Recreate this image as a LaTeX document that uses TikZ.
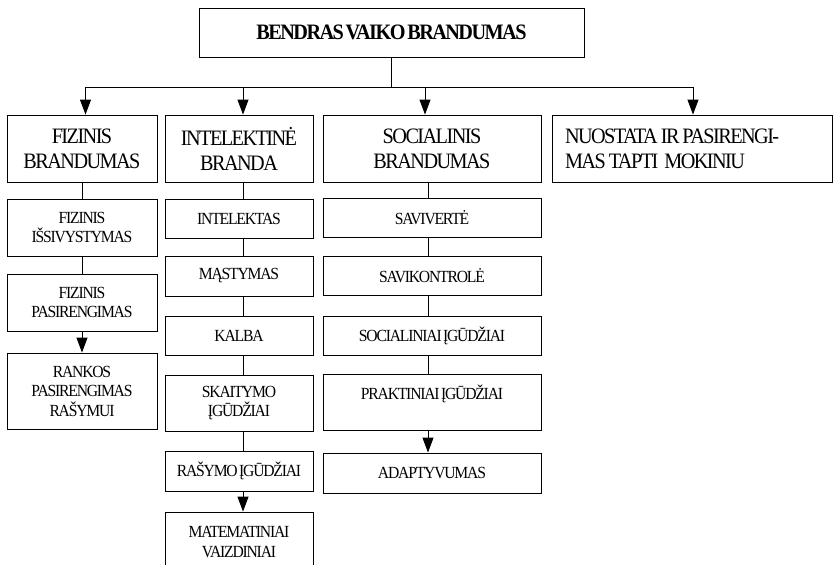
\documentclass[tikz,border=0pt]{standalone}
\usepackage{fontspec}
\setmainfont[FakeStretch=0.92, LetterSpace=-7, WordSpace=0.5]{Liberation Serif}
\usetikzlibrary{arrows.meta}
\usetikzlibrary{calc}

\newcommand\tightspace{\spaceskip=3pt\relax}

\begin{document}
\begin{tikzpicture}[
    x=1pt, y=-1pt,
    line width=0.9pt,
    box/.style={draw, inner sep=0pt, align=center},
    head/.style={box, minimum height=67pt, font=\fontsize{22}{25}\selectfont},
    item/.style={box, font=\fontsize{17}{19.5}\selectfont},
    arr/.style={-{Triangle[length=15pt,width=11pt]}}]

    \useasboundingbox (0,0) rectangle (833,565);

    % top box
    \node[box, minimum width=385pt, minimum height=49pt,
        font=\bfseries\fontsize{22}{25}\selectfont] (top) at (391.5,32.5) {BENDRAS VAIKO BRANDUMAS};

    % first row
    \node[head, minimum width=150pt] (fiz) at (82,148.5) {FIZINIS\\BRANDUMAS};
    \node[head, minimum width=148pt] (intel) at (239,148.5) {INTELEKTINĖ\\BRANDA};
    \node[head, minimum width=218pt] (soc) at (432,148.5) {SOCIALINIS\\BRANDUMAS};
    \node[head, minimum width=280pt, text width=254pt, align=left] (nuo) at (692,148.5)
        {\tightspace NUOSTATA IR PASIRENGI-\\MAS TAPTI~~MOKINIU};

    % fizinis column
    \node[item, minimum width=150pt, minimum height=57pt] (fizA) at (82,227.5) {FIZINIS\\IŠSIVYSTYMAS};
    \node[item, minimum width=150pt, minimum height=57pt] (fizB) at (82,302.5) {FIZINIS\\PASIRENGIMAS};
    \node[item, minimum width=150pt, minimum height=76pt] (fizC) at (82,391) {RANKOS\\PASIRENGIMAS\\RAŠYMUI};

    % intelektine column
    \node[item, minimum width=148pt, minimum height=39pt] (intA) at (239,218.5) {INTELEKTAS};
    \node[item, minimum width=148pt, minimum height=40pt] (intB) at (239,276) {MĄSTYMAS};
    \node[item, minimum width=148pt, minimum height=39pt] (intC) at (239,335.5) {KALBA};
    \node[item, minimum width=148pt, minimum height=56pt] (intD) at (239,403) {SKAITYMO\\ĮGŪDŽIAI};
    \node[item, minimum width=148pt, minimum height=40pt] (intE) at (239,471) {RAŠYMO ĮGŪDŽIAI};
    \node[item, minimum width=148pt, minimum height=60pt] (intF) at (239,542) {MATEMATINIAI\\VAIZDINIAI};

    % socialinis column
    \node[item, minimum width=218pt, minimum height=39pt] (socA) at (432,217.5) {SAVIVERTĖ};
    \node[item, minimum width=218pt, minimum height=39pt] (socB) at (432,275.5) {SAVIKONTROLĖ};
    \node[item, minimum width=218pt, minimum height=39pt] (socC) at (432,335.5) {SOCIALINIAI ĮGŪDŽIAI};
    \node[item, minimum width=218pt, minimum height=56pt] (socD) at (432,402) {PRAKTINIAI ĮGŪDŽIAI\\\mbox{}};
    \node[item, minimum width=218pt, minimum height=40pt] (socE) at (432,473) {ADAPTYVUMAS};

    % bus from the top box
    \coordinate (bus) at ([yshift=-30pt]top.south);
    \draw (top) -- (bus);
    \draw ([xshift=3.5pt]fiz.north |- bus) -- ([xshift=1pt]nuo.north |- bus);
    \foreach \n/\s in {fiz/3.5, intel/4, soc/-7, nuo/1}
        \draw[arr] ([xshift=\s pt]\n.north |- bus) -- ([xshift=\s pt]\n.north);

    % column links
    \foreach \a/\b in {fiz/fizA, fizA/fizB}
        \draw (\a) -- (\b);
    \draw[arr] (fizB) -- (fizC);
    \foreach \a/\b in {intel/intA, intA/intB, intB/intC, intC/intD, intD/intE}
        \draw ([xshift=4pt]\a.south) -- ([xshift=4pt]\b.north);
    \draw[arr] ([xshift=4pt]intE.south) -- ([xshift=4pt]intF.north);
    \foreach \a/\b in {soc/socA, socA/socB, socB/socC, socC/socD}
        \draw ([xshift=-4pt]\a.south) -- ([xshift=-4pt]\b.north);
    \draw[arr] ([xshift=-4pt]socD.south) -- ([xshift=-4pt]socE.north);

\end{tikzpicture}
\end{document}
